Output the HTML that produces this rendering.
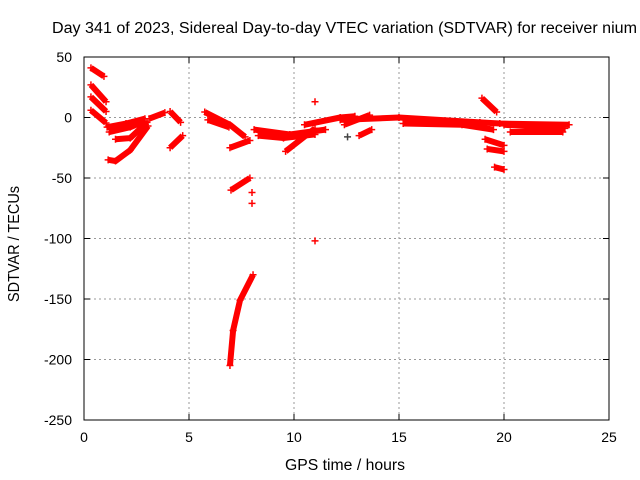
<!DOCTYPE html>
<html><head><meta charset="utf-8"><style>
body{margin:0;background:#fff}
svg{display:block;font-family:"Liberation Sans",sans-serif}
</style></head><body>
<svg id="c" width="640" height="480">
<rect width="640" height="480" fill="#fff"/>
<text x="52" y="33" font-size="15.5" textLength="585" lengthAdjust="spacingAndGlyphs">Day 341 of 2023, Sidereal Day-to-day VTEC variation (SDTVAR) for receiver nium</text>
<text x="285" y="470" font-size="15.5" textLength="120" lengthAdjust="spacingAndGlyphs">GPS time / hours</text>
<text transform="translate(19,302) rotate(-90)" font-size="15.5" textLength="116" lengthAdjust="spacingAndGlyphs">SDTVAR / TECUs</text>
<g id="grid"></g><g id="ticks"></g>
<g id="marks" clip-path="url(#cp)"></g>
<clipPath id="cp"><rect x="84" y="57" width="525" height="363"/></clipPath>
<rect x="84" y="57" width="525" height="363" fill="none" stroke="#000"/>
</svg>
<script>
const xTicks=[0,5,10,15,20,25];
const yTicks=[50,0,-50,-100,-150,-200,-250];
const tracks=[
[[0.33,41],[0.95,34]],
[[0.33,27],[1.05,13]],
[[0.33,17],[1.05,5]],
[[0.33,6],[1.05,-4.5]],
[[1.1,-8],[2.0,-5],[2.9,-1]],
[[1.2,-12],[2.2,-8],[2.9,-3]],
[[1.15,-35],[1.5,-36],[2.2,-27],[3.05,-7]],
[[1.5,-18],[2.2,-17],[3.0,-4]],
[[3.1,-1],[3.85,4]],
[[4.1,5],[4.6,-4]],
[[4.1,-25],[4.7,-15]],
[[5.75,4.5],[6.95,-6],[7.67,-16]],
[[5.9,-2],[6.9,-8]],
[[6.95,-25],[7.9,-19]],
[[7.0,-60],[7.9,-50]],
[[6.95,-205],[7.1,-176],[7.43,-151],[8.05,-130]],
[[8.1,-10],[9.8,-14],[11.5,-10]],
[[8.3,-15],[9.5,-17],[11.0,-14]],
[[9.6,-28],[11.0,-9]],
[[10.5,-6],[12.2,0],[12.9,1]],
[[12.4,-6],[13.6,2]],
[[13.1,-15],[13.7,-10]],
[[12.2,-2],[15,0],[18.85,-4],[19.8,-5],[23.1,-6]],
[[15.2,-5],[18,-6],[19.5,-10]],
[[18.95,16],[19.65,4.5]],
[[19.1,-18],[20,-23]],
[[19.2,-26],[20,-28]],
[[19.55,-41],[20,-43]],
[[20,-6],[22.9,-9]],
[[20.3,-12],[22.8,-12]]
];
const singles=[[8,-62],[8,-71],[11,-102],[11,13],[12.55,-16]];
const X=h=>84+h*21, Y=v=>117.5-v*1.21;
const NS='http://www.w3.org/2000/svg';
const grid=document.getElementById('grid'),ticks=document.getElementById('ticks'),marks=document.getElementById('marks');
function mk(t,a,p){const e=document.createElementNS(NS,t);for(const k in a)e.setAttribute(k,a[k]);p.appendChild(e);return e;}
xTicks.forEach(t=>{const x=X(t);
 if(t>0&&t<25){const g=mk('line',{x1:x,x2:x,y1:57,y2:420,stroke:'#999','stroke-dasharray':'2,3'},grid);
 
 }
 mk('line',{x1:x,x2:x,y1:420,y2:414,stroke:'#000'},ticks);mk('line',{x1:x,x2:x,y1:57,y2:63,stroke:'#000'},ticks);
 const l=mk('text',{x:x,y:442,'font-size':14,'text-anchor':'middle'},ticks);l.textContent=t;
 
 });
yTicks.forEach(t=>{const y=Y(t);
 if(t<50&&t>-250){const g=mk('line',{x1:84,x2:609,y1:y,y2:y,stroke:'#999','stroke-dasharray':'2,3'},grid);
 
 }
 mk('line',{x1:84,x2:90,y1:y,y2:y,stroke:'#000'},ticks);mk('line',{x1:603,x2:609,y1:y,y2:y,stroke:'#000'},ticks);
 const l=mk('text',{x:72,y:y+5,'font-size':14,'text-anchor':'end'},ticks);l.textContent=t;
 
 });
function plus(h,v,col){const x=X(h),y=Y(v);
 const p=mk('path',{d:`M${x-3.5},${y}h7M${x},${y-3.5}v7`,stroke:col,'stroke-width':1.5},marks);
 
 }
tracks.forEach(tr=>{
 const pl=mk('polyline',{points:tr.map(p=>X(p[0])+','+Y(p[1])).join(' '),fill:'none',stroke:'#f00','stroke-width':6,'stroke-linejoin':'round'},marks);
 
 
 tr.forEach(p=>plus(p[0],p[1],'#f00'));});
singles.forEach((p,i)=>plus(p[0],p[1],i==4?'#444':'#f00'));
</script>
</body></html>
